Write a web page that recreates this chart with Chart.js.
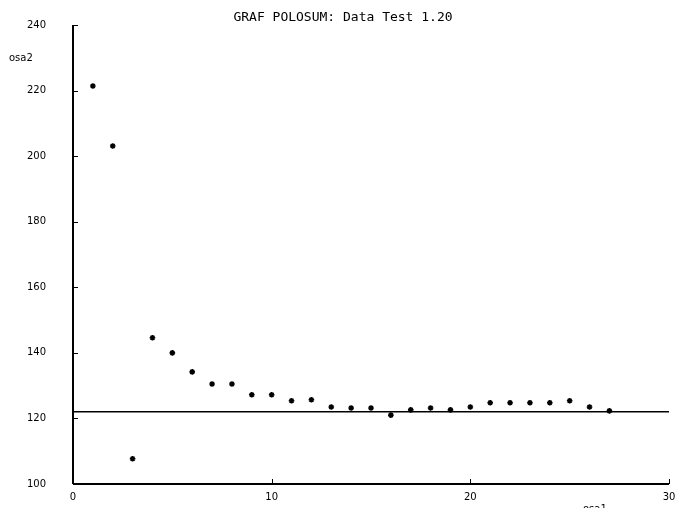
<!DOCTYPE html>
<html>
<head>
<meta charset="utf-8">
<script src="https://cdn.jsdelivr.net/npm/chart.js@4"></script>
<style>
  body { margin: 0; background: #fff; }
  #wrap { width: 675px; height: 508px; }
</style>
</head>
<body>
<div id="wrap"><canvas id="grafChart" width="675" height="508"></canvas></div>
<script>
// data
const osa1 = [1, 2, 3, 4, 5, 6, 7, 8, 9, 10, 11, 12, 13, 14, 15, 16, 17, 18, 19, 20, 21, 22, 23, 24, 25, 26, 27];
const osa2 = [221.4, 203.1, 107.7, 144.6, 140.0, 134.2, 130.5, 130.5, 127.2, 127.2, 125.4, 125.7, 123.5, 123.2, 123.2,
              121.0, 122.6, 123.2, 122.6, 123.5, 124.8, 124.8, 124.8, 124.8, 125.4, 123.5, 122.3];
const levelX = [0, 30];
const levelY = [122, 122];
const xTicks = [0, 10, 20, 30];
const yTicks = [100, 120, 140, 160, 180, 200, 220, 240];

const titleText = 'GRAF POLOSUM: Data Test 1.20';

// axis lines, inward tick marks, title and axis names
const extras = {
    id: 'extras',
    afterDraw(chart) {
        const ctx = chart.ctx;
        const xs = chart.scales.x, ys = chart.scales.y;
        const left = Math.round(ys.right);
        const bottom = Math.round(xs.top);
        ctx.save();
        ctx.strokeStyle = '#000';
        ctx.lineWidth = 2;

        ctx.beginPath();
        ctx.moveTo(left, Math.round(ys.top));
        ctx.lineTo(left, bottom);
        ctx.stroke();

        ctx.beginPath();
        ctx.moveTo(left, bottom);
        ctx.lineTo(Math.round(xs.right), bottom);
        ctx.stroke();

        ctx.lineWidth = 1;
        ctx.beginPath();
        yTicks.forEach(v => {
            const y = Math.round(ys.getPixelForValue(v)) + 0.5;
            ctx.moveTo(left, y);
            ctx.lineTo(left + 5, y);
        });
        xTicks.forEach(v => {
            const x = Math.round(xs.getPixelForValue(v)) + 0.5;
            ctx.moveTo(x, bottom);
            ctx.lineTo(x, bottom - 5);
        });
        ctx.stroke();

        ctx.fillStyle = '#000';
        ctx.font = '13px "DejaVu Sans Mono"';
        ctx.textAlign = 'center';
        ctx.textBaseline = 'middle';
        ctx.fillText(titleText, 343, 18);

        ctx.font = '10px "DejaVu Sans"';
        ctx.textAlign = 'left';
        ctx.fillText('osa2', 9, 58);
        ctx.fillText('osa1', 583, 509);
        ctx.restore();
    }
};

const ctx = document.getElementById('grafChart').getContext('2d');
const chart = new Chart(ctx, {
    type: 'scatter',
    data: {
        datasets: [{
            label: 'osa2',
            data: osa1.map((x, i) => ({ x: x, y: osa2[i] })),
            pointStyle: 'star',
            pointRadius: 2.8,
            borderColor: '#000',
            backgroundColor: '#000',
            borderWidth: 1.6
        }, {
            type: 'line',
            label: 'level',
            data: levelX.map((x, i) => ({ x: x, y: levelY[i] })),
            borderColor: '#000',
            borderWidth: 1.5,
            pointRadius: 0
        }]
    },
    options: {
        responsive: false,
        animation: false,
        layout: { padding: { top: 25, right: 6, left: 0, bottom: 0 } },
        plugins: {
            legend: { display: false },
            title: { display: false },
            tooltip: { enabled: false }
        },
        scales: {
            x: {
                type: 'linear',
                min: 0,
                max: 30,
                afterFit: s => {
                    s.height = 24;
                    s.paddingLeft = 0;
                    s.paddingRight = 0;
                },
                afterBuildTicks: s => { s.ticks = xTicks.map(v => ({ value: v })); },
                grid: { display: false, drawTicks: false },
                border: { display: false },
                ticks: {
                    autoSkip: false,
                    maxRotation: 0,
                    padding: 7,
                    color: '#000',
                    font: { family: 'DejaVu Sans', size: 10 }
                }
            },
            y: {
                min: 100,
                max: 240,
                afterFit: s => {
                    s.width = 73;
                    s.paddingTop = 0;
                    s.paddingBottom = 0;
                },
                afterBuildTicks: s => { s.ticks = yTicks.map(v => ({ value: v })); },
                grid: { display: false, drawTicks: false },
                border: { display: false },
                ticks: {
                    padding: 27,
                    color: '#000',
                    font: { family: 'DejaVu Sans', size: 10 }
                }
            }
        }
    },
    plugins: [extras]
});
</script>
</body>
</html>
